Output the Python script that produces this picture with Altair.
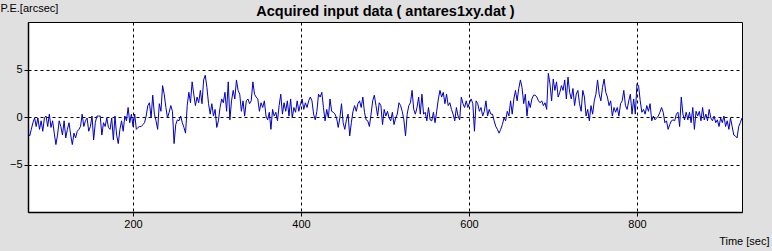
import altair as alt
import numpy as np
import pandas as pd

# P.E. values [arcsec], left to right
seg1 = [-1.7, -2.0, -1.3, -0.6, -0.1, -1.0, -0.1, -1.3, -0.4, -1.5,
        -0.1, 0.1, -1.0, 0.3, -1.1, -0.4, -1.7, -2.9, -1.9, -0.4,
        -1.0, -1.9, -0.4, -2.2, -1.3, -0.6, -1.9, -2.9, -1.7, -2.2,
        -1.5, -1.3, -1.0, 0.3, -1.0, -0.4, -0.1, -1.5, -1.0, 0.1,
        -2.4, -0.6, 0.1, 0.1, 0.1, -1.9, -0.6, -1.0, -0.1, -1.1,
        -1.3, -0.1, -2.4, 0.1]
seg2 = [-1.9, -2.8, -1.3, -0.4, -1.5, 0.1, -0.4, 1.0, -0.6,
        0.3, -1.0, 0.3, -1.3, -1.1, -1.0, -1.0, -0.8, -0.6, 0.1,
        1.2, 1.5, -0.1, 2.3, 0.3, -0.4, -1.3, 1.4, 0.6, 3.3,
        2.4, 1.0, -0.1, 0.5, 1.2, 0.6, -2.8, -0.8, -0.3, -0.4,
        0.1, -0.6, -1.1, -1.7, 1.2, 2.6, 1.5, 3.7, 2.4, 1.2,
        2.1, 1.5, 2.8, 1.4, 3.9, 4.4]
seg3 = [3.1, 1.4, 0.3, 1.4, 0.1, 0.8, -1.1, -0.4, 1.0,
        1.9, 1.5, 2.6, 0.6, 3.7, -0.3, 1.7, 2.8, 1.9, 3.9,
        2.8, 2.4, 0.6, 1.7, 0.1, 1.7, 1.9, 1.4, 1.7, 3.7,
        2.4, 2.1, 1.9, 0.6, 1.5, 1.0, 1.7, 0.1, -0.3, 0.5,
        -1.3, 0.8, 0.1, 0.5, -0.4, 1.2, 2.4, 0.3, 1.5, 0.6,
        1.7, 0.1, 1.9, -0.1, 1.0, 0.5]
seg4 = [1.7, 0.6, 1.4, 1.9, 0.8, 1.5, 1.0, 1.7, 2.1,
        1.7, 0.3, -0.3, 0.6, 2.4, 2.1, 2.6, 1.0, -0.4, 0.8,
        -0.1, 1.9, 0.6, 0.5, 0.3, -0.1, -1.1, -0.1, 1.4, -0.6,
        -1.3, -0.3, 0.3, -2.0, -0.6, 0.6, 1.2, 0.6, 1.4, 1.7,
        1.0, 2.1, 0.5, -0.3, -0.4, -1.0, 0.3, 1.7, 2.3, 1.2,
        0.1, 1.5, 1.2, -0.8, 0.8, 0.1]
seg5 = [0.6, -0.1, -0.4, 0.5, -0.8, -0.1, 0.3, 1.5, 1.2,
        0.6, -0.3, -2.0, 0.3, 1.2, 1.5, 2.8, 0.8, 0.3, 1.0,
        2.1, 0.3, 2.4, 0.3, 0.5, -0.4, 1.0, -0.3, -0.4, 0.5,
        -0.6, 0.6, 1.9, 2.8, 2.1, 2.6, 1.4, 2.4, 1.2, 1.5,
        0.8, 0.3, -0.4, 1.0, 0.1, -0.3, 2.1, 1.4, 1.0, 1.7,
        1.0, 1.5, 1.9, 1.4, -1.5, 1.7]
seg6 = [1.4, 0.6, 1.0, 0.1, 0.6, 1.7, 0.1, 0.8, 0.3,
        0.3, -0.4, -1.0, -1.3, -1.7, -1.3, -0.8, -0.1, -0.4, 0.6,
        0.1, 1.7, 0.3, 1.9, 2.8, 1.7, 3.0, 3.9, 3.1, 1.4,
        2.4, 0.1, 1.7, 1.0, 1.9, 2.3, 2.3, 2.1, 1.7, 1.5,
        1.7, 1.2, 1.5, 0.8, 4.6, 3.5, 1.7, 4.0, 2.8, 3.7,
        2.1, 2.6, 3.3, 2.8, 3.9, 1.9]
seg7 = [4.2, 2.6, 1.9, 3.0, 1.2, 2.4, 2.8, 1.4, 0.6,
        2.8, 2.1, 0.1, 0.8, -0.4, 1.2, 0.3, 1.7, 2.4, 3.9,
        2.4, 1.7, 3.1, 4.0, 2.6, 2.1, 1.2, 1.7, 0.1, 1.0,
        0.5, 1.0, 0.1, 1.4, 1.7, 2.8, 1.2, 0.8, 1.7, 2.4,
        0.3, 1.9, 0.3, 3.5, 3.3, 1.7, 0.5, 0.8, 0.3, 1.2,
        0.6, 1.4, -0.4, 0.1, -0.3, -0.1]
seg8 = [0.1, 0.5, 1.0, 0.5, -0.6, -0.4, -1.3, -0.8,
        -0.4, -0.3, -0.4, 0.3, 0.5, -1.0, 2.1, 0.3, -0.3, 0.5,
        -0.3, 0.5, -0.6, 1.0, -1.3, 0.6, 0.1, 0.6, -0.4, 1.0,
        -0.3, 0.3, -0.4, 0.8, -0.1, -0.4, 0.1, -0.6, -0.3, -1.0,
        -0.1, -0.6, 0.1, -1.0, -0.4, -1.3, -0.1, -1.0, -1.9, -2.0,
        -2.2, -1.0, -0.6, -0.1]

pe = seg1 + seg2 + seg3 + seg4 + seg5 + seg6 + seg7 + seg8
t_start, t_end = 75, 925
time = np.linspace(t_start, t_end, len(pe))

x_ticks = [200, 400, 600, 800]
y_ticks = [-5, 0, 5]
x_domain = [75, 925]
y_domain = [-10, 10]
title_text = "Acquired input data ( antares1xy.dat )"

df = pd.DataFrame({"t": time, "pe": pe})

FONT = "Liberation Sans"

line = alt.Chart(df).mark_line(color="#0000c0", strokeWidth=1, clip=True).encode(
    x=alt.X("t:Q",
            scale=alt.Scale(domain=x_domain, nice=False, zero=False),
            axis=alt.Axis(values=x_ticks, title="Time [sec]", titleFont=FONT,
                          titleFontSize=11, titleFontWeight="normal", titleColor="black",
                          titleAnchor="end", titleAlign="right", titleBaseline="middle",
                          titleX=741, titleY=29,
                          labelFont=FONT, labelFontSize=11, labelColor="black",
                          labelPadding=2,
                          tickColor="black", tickSize=4, domainColor="black",
                          domainWidth=1.5,
                          grid=True, gridColor="black", gridDash=[3, 3],
                          gridWidth=1, gridOpacity=1)),
    y=alt.Y("pe:Q",
            scale=alt.Scale(domain=y_domain, nice=False, zero=False),
            axis=alt.Axis(values=y_ticks, title="P.E.[arcsec]", titleFont=FONT,
                          titleFontSize=11, titleFontWeight="normal", titleColor="black",
                          titleAngle=0, titleAlign="left", titleBaseline="middle",
                          titleX=-28, titleY=-14,
                          labelFont=FONT, labelFontSize=11, labelColor="black",
                          labelPadding=2,
                          tickColor="black", tickSize=4, domainColor="black",
                          domainWidth=1.5,
                          grid=True, gridColor="black", gridDash=[3, 3],
                          gridWidth=1, gridOpacity=1)),
)

title = alt.Chart(pd.DataFrame({"txt": [title_text]})).mark_text(
    font=FONT, fontSize=14.5, fontWeight="bold", color="black",
    align="center", baseline="middle"
).encode(text="txt:N", x=alt.value(357.5), y=alt.value(-10))

chart = alt.layer(line, title).properties(
    width=714,
    height=190,
    autosize=alt.AutoSizeParams(type="none"),
    padding={"left": 28, "top": 22, "right": 30, "bottom": 39},
    background="#e0e0e0",
).configure_view(
    fill="white", stroke="black", strokeWidth=1
)

chart.save("out.html", embed_options={"renderer": "svg", "actions": False})
